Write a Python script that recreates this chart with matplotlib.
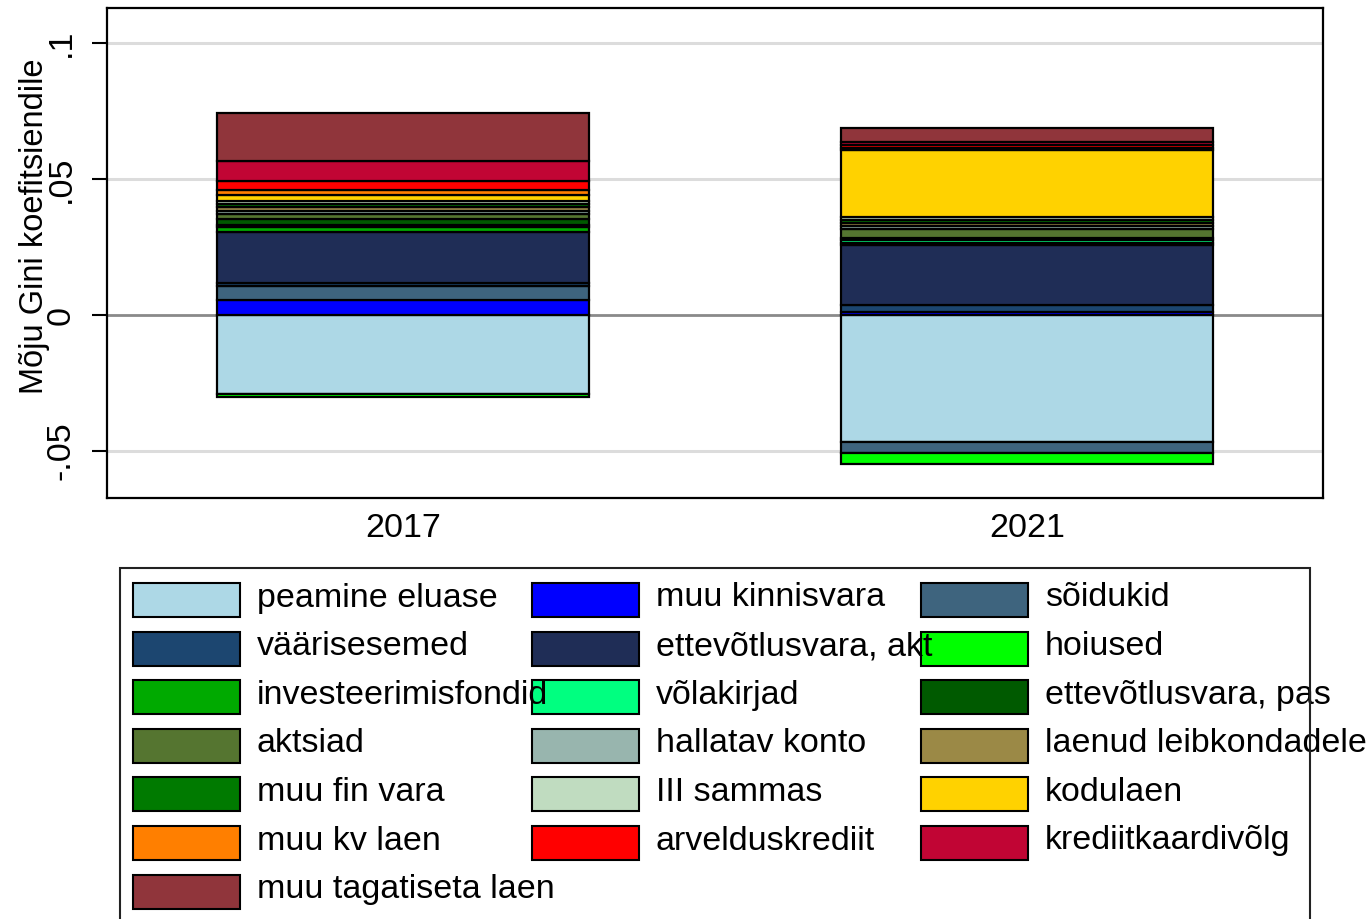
import numpy as np
import matplotlib
matplotlib.use('Agg')
import matplotlib.pyplot as plt
from matplotlib.patches import Rectangle

plt.rcParams['font.family'] = ['Liberation Sans', 'DejaVu Sans']

# Andmed: panus Gini koefitsienti komponentide kaupa
aastad = ['2017', '2021']

komponendid = [
    'peamine eluase', 'muu kinnisvara', 'sõidukid',
    'väärisesemed', 'ettevõtlusvara, akt', 'hoiused',
    'investeerimisfondid', 'võlakirjad', 'ettevõtlusvara, pas',
    'aktsiad', 'hallatav konto', 'laenud leibkondadele',
    'muu fin vara', 'III sammas', 'kodulaen',
    'muu kv laen', 'arvelduskrediit', 'krediitkaardivõlg',
    'muu tagatiseta laen',
]

varvid = [
    '#ADD8E6', '#0000FF', '#3E647E',
    '#1C4670', '#1F2D56', '#00FF00',
    '#00AA00', '#00FF80', '#005A00',
    '#557530', '#98B5AE', '#9B8946',
    '#007A00', '#C0DCC0', '#FFD200',
    '#FF7F00', '#FF0000', '#C10534',
    '#90353B',
]

v2017 = [-0.0290, 0.0055, 0.0050,
         0.0011, 0.0190, -0.0013,
         0.0018, 0.0007, 0.0022,
         0.0018, 0.0011, 0.0015,
         0.0011, 0.0011, 0.0024,
         0.0018, 0.0033, 0.0072,
         0.0178]

v2021 = [-0.0467, 0.0012, -0.0042,
         0.0025, 0.0219, -0.0039,
         0.0009, 0.0009, 0.0009,
         0.0033, 0.0011, 0.0011,
         0.0011, 0.0013, 0.0244,
         0.0009, 0.0009, 0.0011,
         0.0051]

vaartused = np.array([v2017, v2021])

# Joonis
fig = plt.figure(figsize=(13.7, 9.19), dpi=100)
ax = fig.add_axes([107/1370, 1 - 498/919, (1323-107)/1370, (498-8)/919])

x = np.arange(len(aastad))
laius = 0.596
pos_alus = np.zeros(len(aastad))
neg_alus = np.zeros(len(aastad))
for i, nimi in enumerate(komponendid):
    v = vaartused[:, i]
    alus = np.where(v >= 0, pos_alus, neg_alus)
    ax.bar(x, v, width=laius, bottom=alus, color=varvid[i],
           edgecolor='black', linewidth=1.6, zorder=3)
    pos_alus = pos_alus + np.where(v >= 0, v, 0)
    neg_alus = neg_alus + np.where(v < 0, v, 0)

ax.set_xlim(-0.474, 1.474)
ax.set_ylim(-0.06728, 0.11287)
ax.set_yticks([-0.05, 0, 0.05, 0.1])
ax.set_yticklabels(['-.05', '0', '.05', '.1'], rotation=90, va='center',
                   fontsize=24.5)
ax.set_xticks(x)
ax.set_xticklabels(aastad, fontsize=24.5)
ax.tick_params(axis='x', length=0, pad=11)
ax.tick_params(axis='y', length=11, width=1.5, pad=11)

for yv in [-0.05, 0.05, 0.1]:
    ax.axhline(yv, color='#DCDCDC', linewidth=2.2, zorder=1)
ax.axhline(0, color='#8A8A8A', linewidth=2.0, zorder=2)

for s in ax.spines.values():
    s.set_linewidth(1.6)
    s.set_color('black')

fig.text(35/1370, 1 - 226/919, 'Mõju Gini koefitsiendile', rotation=90,
         ha='center', va='center', fontsize=23.5)

# Legend käsitsi, et tekst saaks üle veeru ulatuda nagu Statas
lax = fig.add_axes([0, 0, 1, 1])
lax.set_xlim(0, 1370)
lax.set_ylim(919, 0)
lax.axis('off')

lax.plot([120, 120, 1310, 1310], [925, 568, 568, 925], color='#222222',
         linewidth=1.5, zorder=5, solid_joinstyle='miter')

veeru_x = [133, 532, 921]
for k, (nimi, c) in enumerate(zip(komponendid, varvid)):
    rida, veerg = divmod(k, 3)
    y0 = 583 + rida * 48.6
    lax.add_patch(Rectangle((veeru_x[veerg], y0), 107, 34, facecolor=c,
                            edgecolor='black', linewidth=1.5, zorder=2))
    lax.text(veeru_x[veerg] + 124, y0 + 15, nimi, fontsize=24.5,
             ha='left', va='center', zorder=3)

fig.savefig('out.png', dpi=100)
